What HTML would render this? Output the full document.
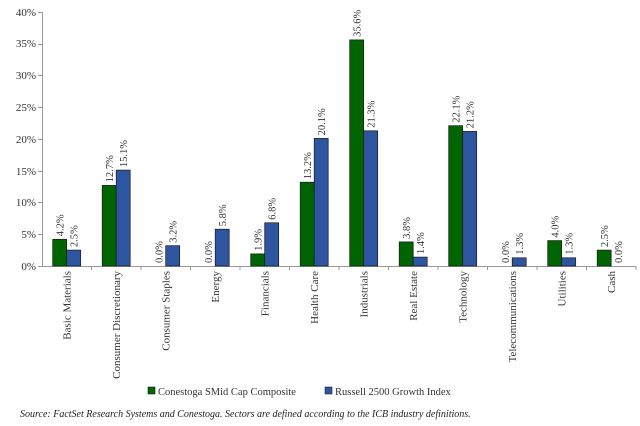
<!DOCTYPE html>
<html><head><meta charset="utf-8"><style>
html,body{margin:0;padding:0;background:#fff;}
svg{display:block;font-family:"Liberation Serif",serif;}
</style></head><body>
<svg width="640" height="426" viewBox="0 0 640 426" xmlns="http://www.w3.org/2000/svg">
<g font-size="11" fill="#333" text-anchor="end">
<text x="36" y="270">0%</text>
<text x="36" y="238">5%</text>
<text x="36" y="206">10%</text>
<text x="36" y="175">15%</text>
<text x="36" y="143">20%</text>
<text x="36" y="111">25%</text>
<text x="36" y="79">30%</text>
<text x="36" y="47">35%</text>
<text x="36" y="16">40%</text>
</g>
<g stroke="#999" stroke-width="1">
<line x1="42.5" y1="12" x2="42.5" y2="266"/>
<line x1="38" y1="12.5" x2="42" y2="12.5"/><line x1="38" y1="44.5" x2="42" y2="44.5"/><line x1="38" y1="75.5" x2="42" y2="75.5"/><line x1="38" y1="107.5" x2="42" y2="107.5"/><line x1="38" y1="139.5" x2="42" y2="139.5"/><line x1="38" y1="171.5" x2="42" y2="171.5"/><line x1="38" y1="202.5" x2="42" y2="202.5"/><line x1="38" y1="234.5" x2="42" y2="234.5"/>
<line x1="38" y1="266.5" x2="636" y2="266.5"/>
<line x1="91.5" y1="266" x2="91.5" y2="270"/><line x1="141" y1="266" x2="141" y2="270"/><line x1="190.5" y1="266" x2="190.5" y2="270"/><line x1="240" y1="266" x2="240" y2="270"/><line x1="289.5" y1="266" x2="289.5" y2="270"/><line x1="339" y1="266" x2="339" y2="270"/><line x1="388.5" y1="266" x2="388.5" y2="270"/><line x1="438" y1="266" x2="438" y2="270"/><line x1="487.5" y1="266" x2="487.5" y2="270"/><line x1="537" y1="266" x2="537" y2="270"/><line x1="586.5" y1="266" x2="586.5" y2="270"/><line x1="636" y1="266" x2="636" y2="270"/>
</g>
<g stroke="#1a1a1a" stroke-width="0.7" fill="#006400">
<rect x="52.7" y="239.3" width="14" height="26.7"/>
<rect x="102.2" y="185.4" width="14" height="80.6"/>
<rect x="250.7" y="253.9" width="14" height="12.1"/>
<rect x="300.2" y="182.2" width="14" height="83.8"/>
<rect x="349.7" y="39.9" width="14" height="226.1"/>
<rect x="399.2" y="241.9" width="14" height="24.1"/>
<rect x="448.7" y="125.7" width="14" height="140.3"/>
<rect x="547.7" y="240.6" width="14" height="25.4"/>
<rect x="597.2" y="250.1" width="14" height="15.9"/>
</g>
<g stroke="#1a1a1a" stroke-width="0.7" fill="#2e56a0">
<rect x="66.7" y="250.1" width="14" height="15.9"/>
<rect x="116.2" y="170.1" width="14" height="95.9"/>
<rect x="165.7" y="245.7" width="14" height="20.3"/>
<rect x="215.2" y="229.2" width="14" height="36.8"/>
<rect x="264.7" y="222.8" width="14" height="43.2"/>
<rect x="314.2" y="138.4" width="14" height="127.6"/>
<rect x="363.7" y="130.8" width="14" height="135.2"/>
<rect x="413.2" y="257.1" width="14" height="8.9"/>
<rect x="462.7" y="131.4" width="14" height="134.6"/>
<rect x="512.2" y="257.8" width="14" height="8.2"/>
<rect x="561.7" y="257.8" width="14" height="8.2"/>
</g>
<g font-size="10.5" fill="#333">
<text transform="translate(63.5,236.3) rotate(-90)">4.2%</text>
<text transform="translate(77.5,247.1) rotate(-90)">2.5%</text>
<text transform="translate(113,182.4) rotate(-90)">12.7%</text>
<text transform="translate(127,167.1) rotate(-90)">15.1%</text>
<text transform="translate(162.5,263) rotate(-90)">0.0%</text>
<text transform="translate(176.5,242.7) rotate(-90)">3.2%</text>
<text transform="translate(212,263) rotate(-90)">0.0%</text>
<text transform="translate(226,226.2) rotate(-90)">5.8%</text>
<text transform="translate(261.5,250.9) rotate(-90)">1.9%</text>
<text transform="translate(275.5,219.8) rotate(-90)">6.8%</text>
<text transform="translate(311,179.2) rotate(-90)">13.2%</text>
<text transform="translate(325,135.4) rotate(-90)">20.1%</text>
<text transform="translate(360.5,36.9) rotate(-90)">35.6%</text>
<text transform="translate(374.5,127.8) rotate(-90)">21.3%</text>
<text transform="translate(410,238.9) rotate(-90)">3.8%</text>
<text transform="translate(424,254.1) rotate(-90)">1.4%</text>
<text transform="translate(459.5,122.7) rotate(-90)">22.1%</text>
<text transform="translate(473.5,128.4) rotate(-90)">21.2%</text>
<text transform="translate(509,263) rotate(-90)">0.0%</text>
<text transform="translate(523,254.8) rotate(-90)">1.3%</text>
<text transform="translate(558.5,237.6) rotate(-90)">4.0%</text>
<text transform="translate(572.5,254.8) rotate(-90)">1.3%</text>
<text transform="translate(608,247.1) rotate(-90)">2.5%</text>
<text transform="translate(622,263) rotate(-90)">0.0%</text>
</g>
<g font-size="11" fill="#333" text-anchor="end">
<text transform="translate(70.5,271) rotate(-90)">Basic Materials</text>
<text transform="translate(120,271) rotate(-90)">Consumer Discretionary</text>
<text transform="translate(169.5,271) rotate(-90)">Consumer Staples</text>
<text transform="translate(219,271) rotate(-90)">Energy</text>
<text transform="translate(268.5,271) rotate(-90)">Financials</text>
<text transform="translate(318,271) rotate(-90)">Health Care</text>
<text transform="translate(367.5,271) rotate(-90)">Industrials</text>
<text transform="translate(417,271) rotate(-90)">Real Estate</text>
<text transform="translate(466.5,271) rotate(-90)">Technology</text>
<text transform="translate(516,271) rotate(-90)">Telecommunications</text>
<text transform="translate(565.5,271) rotate(-90)">Utilities</text>
<text transform="translate(615,271) rotate(-90)">Cash</text>
</g>
<g font-size="10.5" fill="#333">
<rect x="148" y="387" width="7" height="7" fill="#006400" stroke="#222" stroke-width="0.6"/>
<text x="158" y="395">Conestoga SMid Cap Composite</text>
<rect x="325" y="387" width="7" height="7" fill="#2e56a0" stroke="#222" stroke-width="0.6"/>
<text x="335" y="395">Russell 2500 Growth Index</text>
<text x="20" y="417" font-style="italic" font-size="10" fill="#222">Source: FactSet Research Systems and Conestoga. Sectors are defined according to the ICB industry definitions.</text>
</g>
</svg>
</body></html>
